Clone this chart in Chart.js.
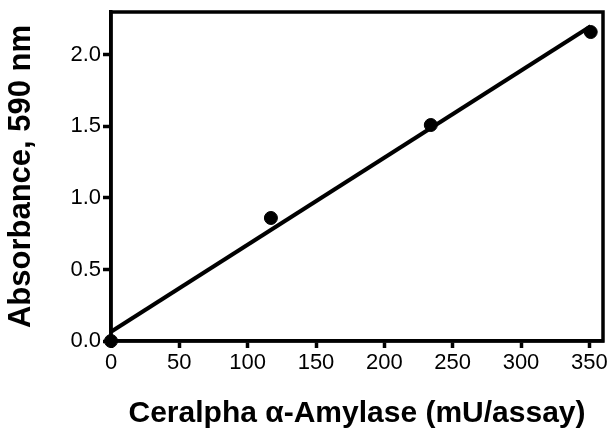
<!DOCTYPE html>
<html>
<head>
<meta charset="utf-8">
<script src="https://cdn.jsdelivr.net/npm/chart.js@4/dist/chart.umd.min.js"></script>
<style>
  html, body { margin: 0; padding: 0; background: #fff; }
  #wrap { width: 612px; height: 432px; }
</style>
</head>
<body>
<div id="wrap"><canvas id="amylaseChart" width="612" height="432"></canvas></div>
<script>
// Datos
const amylase = [0, 117, 234, 351];          // mU/assay
const absorbance = [0, 0.86, 1.51, 2.16];    // A590
const fitX = [0, 351];                       // extremos de la recta de ajuste
const fitY = [0.065, 2.20];
const xTicks = [0, 50, 100, 150, 200, 250, 300, 350];
const yTicks = [0.0, 0.5, 1.0, 1.5, 2.0];

const ctx = document.getElementById('amylaseChart').getContext('2d');

// Marco completo alrededor del área del gráfico
const frame = {
  id: 'frame',
  beforeDatasetsDraw(chart) {
    const { ctx, chartArea: a } = chart;
    ctx.save();
    ctx.strokeStyle = '#000';
    ctx.lineWidth = 3.5;
    ctx.strokeRect(a.left, a.top, a.right - a.left, a.bottom - a.top);
    ctx.restore();
  }
};

new Chart(ctx, {
  type: 'scatter',
  data: {
    datasets: [{
      label: 'fit',
      data: fitX.map((x, i) => ({ x: x, y: fitY[i] })),
      showLine: true,
      borderColor: '#000',
      borderWidth: 4,
      pointRadius: 0,
      clip: false
    }, {
      label: 'Ceralpha',
      data: amylase.map((x, i) => ({ x: x, y: absorbance[i] })),
      backgroundColor: '#000',
      borderColor: '#000',
      pointRadius: 6.5,
      clip: false
    }]
  },
  options: {
    responsive: false,
    animation: false,
    layout: { padding: { top: 12, right: 9, left: 0, bottom: 0 } },
    plugins: {
      legend: { display: false },
      tooltip: { enabled: false }
    },
    scales: {
      x: {
        type: 'linear',
        min: 0,
        max: 360,
        afterFit: (s) => { s.height = 91; },
        afterBuildTicks: (s) => { s.ticks = xTicks.map(v => ({ value: v })); },
        border: { color: '#000', width: 3.5 },
        grid: { drawOnChartArea: false, drawTicks: true, tickLength: 7, tickWidth: 3.5, tickColor: '#000' },
        ticks: {
          color: '#000',
          padding: 2,
          font: { family: '"Liberation Sans", Arial, sans-serif', size: 22 },
          callback: (v) => String(v)
        },
        title: {
          display: true,
          text: 'Ceralpha \u03B1-Amylase (mU/assay)',
          color: '#000',
          font: { family: '"Liberation Sans", Arial, sans-serif', size: 30, weight: 'bold' },
          padding: { top: 0, bottom: 0 }
        }
      },
      y: {
        type: 'linear',
        min: 0,
        max: 2.3,
        afterFit: (s) => { s.width = 111; s.paddingTop = 0; s.paddingBottom = 0; },
        afterBuildTicks: (s) => { s.ticks = yTicks.map(v => ({ value: v })); },
        border: { color: '#000', width: 3.5 },
        grid: { drawOnChartArea: false, drawTicks: true, tickLength: 8, tickWidth: 3.5, tickColor: '#000' },
        ticks: {
          color: '#000',
          padding: 2,
          font: { family: '"Liberation Sans", Arial, sans-serif', size: 22 },
          callback: (v) => v.toFixed(1)
        },
        title: {
          display: true,
          text: 'Absorbance, 590 nm',
          color: '#000',
          font: { family: '"Liberation Sans", Arial, sans-serif', size: 31, weight: 'bold' },
          padding: { top: 3, bottom: 0 }
        }
      }
    }
  },
  plugins: [frame]
});
</script>
</body>
</html>
